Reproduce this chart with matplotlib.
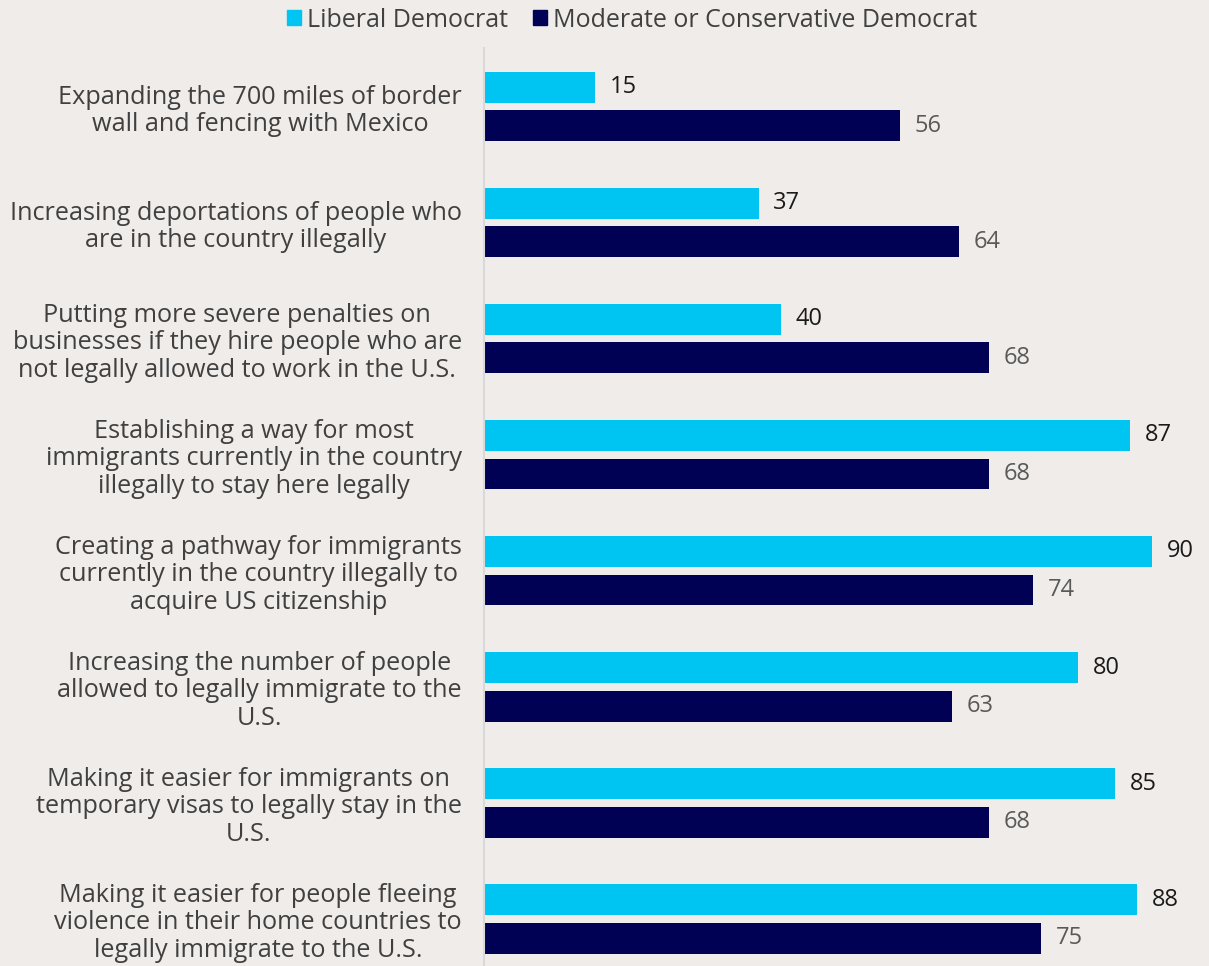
import matplotlib.pyplot as plt
from matplotlib.patches import Patch

categories = [
    'Expanding the 700 miles of border\nwall and fencing with Mexico',
    'Increasing deportations of people who\nare in the country illegally',
    'Putting more severe penalties on\nbusinesses if they hire people who are\nnot legally allowed to work in the U.S.',
    'Establishing a way for most\nimmigrants currently in the country\nillegally to stay here legally',
    'Creating a pathway for immigrants\ncurrently in the country illegally to\nacquire US citizenship',
    'Increasing the number of people\nallowed to legally immigrate to the\nU.S.',
    'Making it easier for immigrants on\ntemporary visas to legally stay in the\nU.S.',
    'Making it easier for people fleeing\nviolence in their home countries to\nlegally immigrate to the U.S.',
]
liberal = [15, 37, 40, 87, 90, 80, 85, 88]
moderate = [56, 64, 68, 68, 74, 63, 68, 75]

bg = '#f0ece9'
c_lib = '#00c5f2'
c_mod = '#000055'
txt = '#404040'

plt.rcParams['font.family'] = ['Open Sans', 'DejaVu Sans']

fig = plt.figure(figsize=(12.09, 9.66), dpi=100, facecolor=bg)
ax = fig.add_axes([484 / 1209, 0, 1 - 484 / 1209, 918 / 966])
ax.set_facecolor(bg)

y = list(range(len(categories)))
off = 0.166
h = 0.267
ax.barh([v - off for v in y], liberal, height=h, color=c_lib)
ax.barh([v + off for v in y], moderate, height=h, color=c_mod)

# 数値ラベル
for i in y:
    ax.text(liberal[i] + 2.0, i - off, str(liberal[i]), va='center', ha='left',
            fontsize=17, color='#1a1a1a')
    ax.text(moderate[i] + 2.0, i + off, str(moderate[i]), va='center', ha='left',
            fontsize=17, color='#595959')

ax.set_xlim(0, 97.7)
ax.set_ylim(7.407, -0.506)
ax.set_xticks([])
ax.set_yticks(y)
ax.set_yticklabels(categories, fontsize=18.2, color=txt, multialignment='center',
                   linespacing=1.12)
ax.tick_params(axis='y', length=0, pad=16)
for s in ['top', 'right', 'bottom']:
    ax.spines[s].set_visible(False)
ax.spines['left'].set_color('#d9d9d9')
ax.spines['left'].set_linewidth(1.5)

handles = [Patch(color=c_lib, label='Liberal Democrat'),
           Patch(color=c_mod, label='Moderate or Conservative Democrat')]
leg = fig.legend(handles=handles, loc='center', bbox_to_anchor=(0.523, 0.979), ncol=2,
                 frameon=False, fontsize=18, handlelength=0.55, handleheight=0.55,
                 handletextpad=0.25, columnspacing=1.0)
for t in leg.get_texts():
    t.set_color(txt)

fig.savefig('out.png', dpi=100, facecolor=bg)
